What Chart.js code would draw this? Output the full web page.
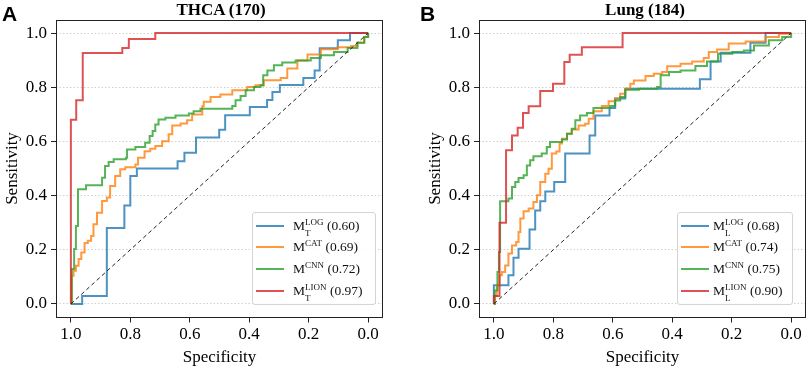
<!DOCTYPE html>
<html>
<head>
<meta charset="utf-8">
<script src="https://cdn.jsdelivr.net/npm/chart.js@4.4.1/dist/chart.umd.min.js"></script>
<style>
  html, body { margin:0; padding:0; background:#fff; width:809px; height:369px; overflow:hidden; }
  .pane { position:absolute; top:0; height:369px; }
  .letter { position:absolute; font-family:'Liberation Sans', Arial, sans-serif; font-weight:bold; font-size:21px; line-height:21px; color:#000; }
  .title { position:absolute; font-family:'Liberation Serif', 'Times New Roman', serif; font-weight:bold; font-size:17px; line-height:20px; color:#000; transform:translateX(-50%); white-space:nowrap; }
  .legend { position:absolute; box-sizing:border-box; border:1px solid #d4d4d4; border-radius:3px; background:rgba(255,255,255,0.85); }
  .row { position:absolute; left:0; height:20px; }
  .swatch { position:absolute; height:2px; }
  .lab { position:absolute; top:0; font-family:'Liberation Serif', 'Times New Roman', serif; font-size:13.5px; line-height:20px; color:#111; white-space:nowrap; }
  .ss { position:relative; display:inline-block; font-size:9px; line-height:9px; }
  .sp { position:relative; top:-5px; }
  .sb { position:absolute; left:0; top:6px; }
</style>
</head>
<body>
<div class="pane" style="left:0;width:404px;"><canvas id="cA" width="404" height="369"></canvas></div>
<div class="pane" style="left:423px;width:386px;"><canvas id="cB" width="386" height="369"></canvas></div>
<div class="letter" style="left:2px;top:3px;">A</div>
<div class="letter" style="left:420px;top:3px;">B</div>
<div class="title" style="left:221px;top:0px;">THCA (170)</div>
<div class="title" style="left:645px;top:0px;">Lung (184)</div>
<div id="legA" class="legend" style="left:252px;top:212px;width:124px;height:93px;"></div>
<div id="legB" class="legend" style="left:677px;top:212px;width:116px;height:93px;"></div>
<script>
// ---------- data ----------
const tickValues = [0, 0.2, 0.4, 0.6, 0.8, 1.0];
const modelNames = ['LOG', 'CAT', 'CNN', 'LION'];
const thcaSub = ['T', '', '', 'T'];
const lungSub = ['L', '', '', 'L'];
const thcaAuc = ['0.60', '0.69', '0.72', '0.97'];
const lungAuc = ['0.68', '0.74', '0.75', '0.90'];
const chanceSpec = [1.0, 0.0];
const chanceSens = [0.0, 1.0];

// THCA (170)
const thcaLogSpec = [1.0, 0.962, 0.879, 0.820, 0.800, 0.778, 0.641, 0.618, 0.579, 0.501, 0.481, 0.398, 0.340, 0.322, 0.297, 0.218, 0.180, 0.163, 0.102, 0.061, 0.0];
const thcaLogSens = [0.0, 0.029, 0.280, 0.363, 0.472, 0.500, 0.527, 0.558, 0.614, 0.643, 0.697, 0.727, 0.753, 0.782, 0.808, 0.834, 0.862, 0.944, 0.973, 1.0, 1.0];

const thcaCatSpec = [1.0, 0.997, 0.991, 0.983, 0.974, 0.965, 0.954, 0.943, 0.932, 0.924, 0.912, 0.895, 0.879, 0.868, 0.851, 0.834, 0.817, 0.783, 0.774, 0.752, 0.733, 0.716, 0.693, 0.671, 0.659, 0.631, 0.609, 0.592, 0.558, 0.553, 0.530, 0.497, 0.457, 0.407, 0.379, 0.351, 0.294, 0.272, 0.238, 0.204, 0.159, 0.103, 0.058, 0.036, 0.013, 0.0];
const thcaCatSens = [0.0, 0.104, 0.123, 0.141, 0.166, 0.190, 0.225, 0.233, 0.251, 0.294, 0.337, 0.380, 0.393, 0.435, 0.472, 0.497, 0.505, 0.515, 0.540, 0.564, 0.573, 0.583, 0.601, 0.626, 0.659, 0.666, 0.678, 0.699, 0.730, 0.746, 0.764, 0.773, 0.789, 0.801, 0.807, 0.826, 0.834, 0.869, 0.899, 0.921, 0.940, 0.948, 0.952, 0.964, 0.985, 1.0];

const thcaCnnSpec = [1.0, 0.997, 0.989, 0.983, 0.976, 0.949, 0.895, 0.885, 0.873, 0.856, 0.815, 0.811, 0.783, 0.750, 0.735, 0.725, 0.716, 0.705, 0.682, 0.648, 0.603, 0.587, 0.564, 0.457, 0.446, 0.429, 0.412, 0.384, 0.362, 0.353, 0.339, 0.317, 0.289, 0.244, 0.193, 0.159, 0.115, 0.069, 0.036, 0.013, 0.0];
const thcaCnnSens = [0.0, 0.129, 0.203, 0.288, 0.423, 0.438, 0.466, 0.509, 0.524, 0.534, 0.540, 0.570, 0.579, 0.595, 0.620, 0.638, 0.662, 0.681, 0.687, 0.696, 0.703, 0.711, 0.721, 0.731, 0.752, 0.768, 0.789, 0.801, 0.807, 0.844, 0.862, 0.881, 0.891, 0.899, 0.908, 0.918, 0.930, 0.945, 0.964, 0.985, 1.0];

const thcaLionSpec = [1.0, 1.0, 0.982, 0.960, 0.827, 0.805, 0.716, 0.0];
const thcaLionSens = [0.0, 0.680, 0.752, 0.926, 0.945, 0.978, 1.0, 1.0];

// Lung (184)
const lungLogSpec = [1.0, 1.0, 0.951, 0.934, 0.917, 0.880, 0.861, 0.844, 0.827, 0.797, 0.760, 0.678, 0.659, 0.611, 0.592, 0.558, 0.307, 0.271, 0.237, 0.137, 0.086, 0.0];
const lungLogSens = [0.0, 0.069, 0.106, 0.171, 0.204, 0.275, 0.345, 0.379, 0.415, 0.450, 0.555, 0.622, 0.696, 0.723, 0.758, 0.794, 0.829, 0.895, 0.927, 0.964, 1.0, 1.0];

const lungCatSpec = [1.0, 0.997, 0.990, 0.981, 0.973, 0.962, 0.951, 0.939, 0.925, 0.917, 0.911, 0.900, 0.883, 0.867, 0.855, 0.844, 0.827, 0.816, 0.805, 0.790, 0.779, 0.771, 0.754, 0.738, 0.715, 0.693, 0.681, 0.665, 0.637, 0.614, 0.592, 0.575, 0.558, 0.541, 0.529, 0.490, 0.462, 0.434, 0.417, 0.372, 0.333, 0.294, 0.277, 0.249, 0.210, 0.153, 0.086, 0.041, 0.0];
const lungCatSens = [0.0, 0.029, 0.069, 0.106, 0.118, 0.142, 0.186, 0.216, 0.229, 0.266, 0.315, 0.342, 0.352, 0.376, 0.401, 0.450, 0.481, 0.499, 0.555, 0.563, 0.592, 0.610, 0.628, 0.644, 0.659, 0.665, 0.684, 0.711, 0.731, 0.748, 0.758, 0.776, 0.794, 0.813, 0.825, 0.841, 0.850, 0.856, 0.877, 0.887, 0.895, 0.908, 0.930, 0.939, 0.961, 0.969, 0.985, 0.997, 1.0];

const lungCnnSpec = [1.0, 0.997, 0.988, 0.983, 0.979, 0.951, 0.939, 0.928, 0.917, 0.900, 0.889, 0.878, 0.867, 0.839, 0.822, 0.811, 0.771, 0.754, 0.738, 0.726, 0.710, 0.687, 0.665, 0.609, 0.592, 0.575, 0.558, 0.512, 0.451, 0.439, 0.411, 0.372, 0.322, 0.283, 0.246, 0.198, 0.159, 0.125, 0.075, 0.030, 0.0];
const lungCnnSens = [0.0, 0.050, 0.118, 0.192, 0.379, 0.389, 0.432, 0.450, 0.465, 0.475, 0.511, 0.530, 0.545, 0.555, 0.579, 0.598, 0.607, 0.628, 0.647, 0.678, 0.696, 0.705, 0.723, 0.731, 0.751, 0.764, 0.791, 0.794, 0.801, 0.844, 0.856, 0.862, 0.878, 0.895, 0.924, 0.930, 0.936, 0.954, 0.973, 0.985, 1.0];

const lungLionSpec = [1.0, 1.0, 0.981, 0.959, 0.939, 0.920, 0.902, 0.883, 0.844, 0.801, 0.763, 0.745, 0.704, 0.567, 0.0];
const lungLionSens = [0.0, 0.029, 0.300, 0.567, 0.622, 0.650, 0.705, 0.730, 0.786, 0.813, 0.893, 0.920, 0.948, 1.0, 1.0];

// ---------- styling ----------
const colors = ['rgba(31,119,180,0.8)', 'rgba(255,127,14,0.8)', 'rgba(44,160,44,0.8)', 'rgba(214,39,40,0.8)'];
const serif = "'Liberation Serif', 'Times New Roman', serif";

function pts(xs, ys) { return xs.map((x, i) => ({ x: x, y: ys[i] })); }

function makeDatasets(curves) {
  const ds = curves.map((c, i) => ({
    label: 'M' + modelNames[i],
    data: pts(c[0], c[1]),
    borderColor: colors[i],
    borderWidth: 2,
    stepped: 'before',
    pointRadius: 0,
    fill: false,
    order: 5 - i
  }));
  ds.push({
    label: 'chance',
    data: pts(chanceSpec, chanceSens),
    borderColor: '#222',
    borderWidth: 1,
    borderDash: [4, 3],
    pointRadius: 0,
    fill: false,
    order: 0
  });
  return ds;
}

const framePlugin = {
  id: 'frame',
  afterDraw(chart) {
    const a = chart.chartArea, ctx = chart.ctx;
    ctx.save();
    ctx.strokeStyle = '#222';
    ctx.lineWidth = 1;
    const l = Math.round(a.left) + 0.5, t = Math.round(a.top) + 0.5;
    const r = Math.round(a.right) - 0.5, b = Math.round(a.bottom) - 0.5;
    ctx.strokeRect(l, t, r - l, b - t);
    ctx.restore();
  }
};

function makeChart(id, curves, rightPad) {
  const tickFont = { family: serif, size: 17 };
  return new Chart(document.getElementById(id), {
    type: 'line',
    data: { datasets: makeDatasets(curves) },
    options: {
      responsive: false,
      animation: false,
      devicePixelRatio: 1,
      layout: { padding: { left: 0, right: rightPad, top: 19.5, bottom: 0 } },
      plugins: { legend: { display: false }, title: { display: false }, tooltip: { enabled: false } },
      scales: {
        x: {
          type: 'linear', reverse: true, min: -0.05, max: 1.05,
          afterBuildTicks: s => { s.ticks = tickValues.map(v => ({ value: v })); },
          afterFit: s => { s.height = 51.5; },
          ticks: { callback: v => Number(v).toFixed(1), font: tickFont, color: '#000', padding: 2, maxRotation: 0, autoSkip: false },
          grid: { drawOnChartArea: false, drawTicks: true, tickLength: 5, tickColor: '#222', tickWidth: 1 },
          border: { display: false },
          title: { display: true, text: 'Specificity', font: { family: serif, size: 17 }, color: '#000', padding: { top: 0, bottom: 1 } }
        },
        y: {
          type: 'linear', min: -0.05, max: 1.05,
          afterBuildTicks: s => { s.ticks = tickValues.map(v => ({ value: v })); },
          afterFit: s => { s.width = 56; },
          ticks: { callback: v => Number(v).toFixed(1), font: tickFont, color: '#000', padding: 4, autoSkip: false },
          grid: { drawOnChartArea: true, drawTicks: true, tickLength: 5, color: 'rgba(170,170,170,0.55)', lineWidth: 1, tickColor: '#222', tickWidth: 1, tickBorderDash: [] },
          border: { display: false, dash: [1.5, 2] },
          title: { display: true, text: 'Sensitivity', font: { family: serif, size: 17 }, color: '#000', padding: { top: 2, bottom: 0 } }
        }
      }
    },
    plugins: [framePlugin]
  });
}

const chartA = makeChart('cA', [
  [thcaLogSpec, thcaLogSens], [thcaCatSpec, thcaCatSens], [thcaCnnSpec, thcaCnnSens], [thcaLionSpec, thcaLionSens]
], 21);
const chartB = makeChart('cB', [
  [lungLogSpec, lungLogSens], [lungCatSpec, lungCatSens], [lungCnnSpec, lungCnnSens], [lungLionSpec, lungLionSens]
], 3);

function buildLegend(elId, chart, subs, aucs, swLeft, textLeft) {
  const box = document.getElementById(elId);
  const rowTops = [2.5, 24.3, 46.1, 67.9];
  chart.data.datasets.slice(0, 4).forEach((ds, i) => {
    const row = document.createElement('div');
    row.className = 'row';
    row.style.top = rowTops[i] + 'px';
    row.style.width = '100%';
    const sw = document.createElement('div');
    sw.className = 'swatch';
    sw.style.left = swLeft + 'px';
    sw.style.width = '28px';
    sw.style.top = '9px';
    sw.style.background = ds.borderColor;
    row.appendChild(sw);
    const lab = document.createElement('div');
    lab.className = 'lab';
    lab.style.left = textLeft + 'px';
    const m = document.createElement('span');
    m.textContent = 'M';
    lab.appendChild(m);
    const ss = document.createElement('span');
    ss.className = 'ss';
    const sp = document.createElement('span');
    sp.className = 'sp';
    sp.textContent = modelNames[i];
    ss.appendChild(sp);
    if (subs[i]) {
      const sb = document.createElement('span');
      sb.className = 'sb';
      sb.textContent = subs[i];
      ss.appendChild(sb);
    }
    lab.appendChild(ss);
    lab.appendChild(document.createTextNode(' (' + aucs[i] + ')'));
    row.appendChild(lab);
    box.appendChild(row);
  });
}
buildLegend('legA', chartA, thcaSub, thcaAuc, 3, 40);
buildLegend('legB', chartB, lungSub, lungAuc, 3, 35);
</script>
</body>
</html>
